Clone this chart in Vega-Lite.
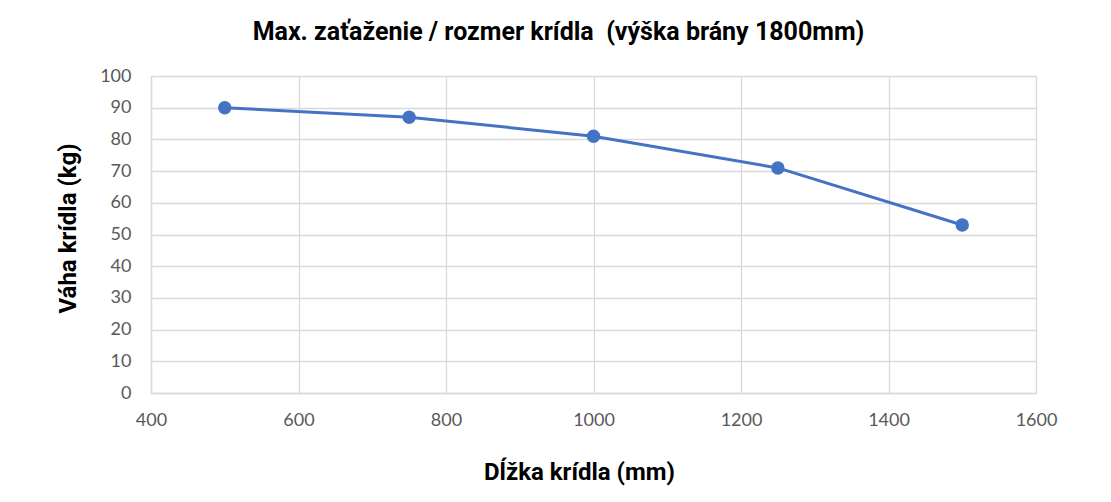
{
  "$schema": "https://vega.github.io/schema/vega-lite/v6.json",
  "width": 885,
  "height": 317,
  "autosize": {"type": "none"},
  "padding": {"left": 151, "top": 76, "right": 75, "bottom": 109},
  "background": "white",
  "title": {
    "text": "Max. zaťaženie / rozmer krídla\u00a0 (výška brány 1800mm)",
    "font": "Roboto",
    "fontSize": 25,
    "fontWeight": "bold",
    "color": "#000000",
    "anchor": "middle",
    "dx": -35,
    "offset": 22
  },
  "data": {
    "values": [
      {"dlzka": 500, "vaha": 90},
      {"dlzka": 750, "vaha": 87},
      {"dlzka": 1000, "vaha": 81},
      {"dlzka": 1250, "vaha": 71},
      {"dlzka": 1500, "vaha": 53}
    ]
  },
  "config": {
    "view": {"stroke": null},
    "axis": {
      "labelFont": "Lato",
      "labelFontSize": 18,
      "labelColor": "#595959",
      "titleFont": "Roboto",
      "titleFontSize": 24,
      "titleFontWeight": "bold",
      "titleColor": "#000000",
      "gridColor": "#d9d9d9",
      "gridWidth": 1.3,
      "domainColor": "#d9d9d9",
      "domainWidth": 1.3,
      "ticks": false
    }
  },
  "encoding": {
    "x": {
      "field": "dlzka",
      "type": "quantitative",
      "scale": {"domain": [400, 1600], "nice": false, "zero": false},
      "axis": {
        "values": [400, 600, 800, 1000, 1200, 1400, 1600],
        "format": "d",
        "title": "Dĺžka krídla (mm)",
        "labelPadding": 18,
        "labelFlush": false,
        "titleX": 428,
        "titleY": 79,
        "titleBaseline": "middle",
        "titleAlign": "center"
      }
    },
    "y": {
      "field": "vaha",
      "type": "quantitative",
      "scale": {"domain": [0, 100], "nice": false},
      "axis": {
        "values": [0, 10, 20, 30, 40, 50, 60, 70, 80, 90, 100],
        "format": "d",
        "title": "Váha krídla (kg)",
        "labelPadding": 20,
        "titleX": -83,
        "titleY": 152,
        "titleAngle": -90,
        "titleAlign": "center",
        "titleBaseline": "middle"
      }
    }
  },
  "layer": [
    {"mark": {"type": "line", "color": "#4472C4", "strokeWidth": 3}},
    {"mark": {"type": "point", "filled": true, "color": "#4472C4", "size": 180, "opacity": 1}}
  ]
}
